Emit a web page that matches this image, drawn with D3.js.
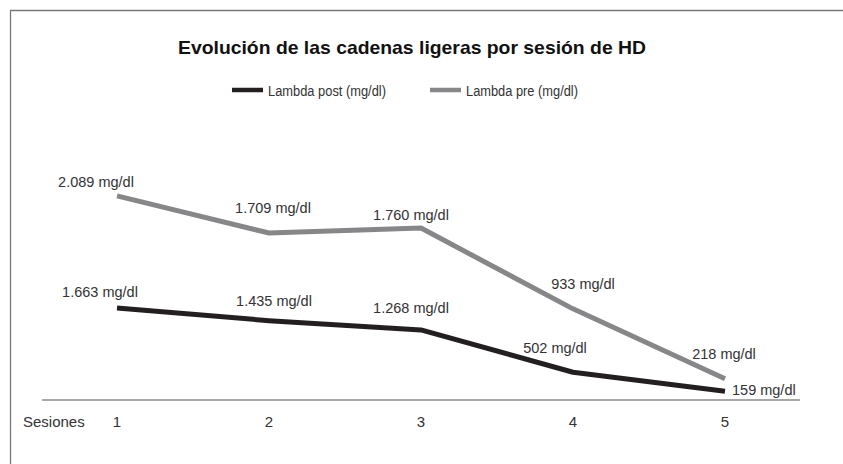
<!DOCTYPE html>
<html>
<head>
<meta charset="utf-8">
<script src="https://cdn.jsdelivr.net/npm/d3@7"></script>
<style>
  body { margin: 0; background: #fff; }
  svg { display: block; }
</style>
</head>
<body>
<div id="chart"></div>
<script>
// datos del gráfico
const sesiones = [1, 2, 3, 4, 5];
const lambdaPost = [1663, 1435, 1268, 502, 159];
const lambdaPre = [2089, 1709, 1760, 933, 218];
const etiquetasPost = ["1.663 mg/dl", "1.435 mg/dl", "1.268 mg/dl", "502 mg/dl", "159 mg/dl"];
const etiquetasPre = ["2.089 mg/dl", "1.709 mg/dl", "1.760 mg/dl", "933 mg/dl", "218 mg/dl"];
const titulo = "Evolución de las cadenas ligeras por sesión de HD";
const nombresSeries = ["Lambda post (mg/dl)", "Lambda pre (mg/dl)"];

// desplazamientos manuales de las etiquetas (dx, dy respecto al punto)
const ajustePre = [[-21, -9], [4, -20], [-10, -8], [10, -20], [-1, -20]];
const ajustePost = [[-17, -11], [5, -15], [-10, -17], [-18, -19], [7, 4]];

const colors = {
    post: "#231f20",
    pre: "#87878a",
    axis: "#8a8a8a",
    text: "#333333"
};

const width = 843, height = 464;
const svg = d3.select("#chart").append("svg")
    .attr("width", width)
    .attr("height", height);

const fontTxt = "'Liberation Sans Narrow', 'Liberation Sans', Arial, sans-serif";

// marco (solo arriba e izquierda visibles)
svg.append("path")
    .attr("d", `M10.5,${height} L10.5,10.5 L${width},10.5`)
    .attr("fill", "none")
    .attr("stroke", "#777")
    .attr("stroke-width", 1.3);

// escalas
const x = d3.scaleLinear().domain([1, 5]).range([117, 725]);
const yPost = d3.scaleLinear().domain([0, 6510]).range([400, 40]);
const yPre = d3.scaleLinear().domain([0, 3685]).range([400, 40]);

// título
svg.append("text")
    .attr("x", 412)
    .attr("y", 54)
    .attr("text-anchor", "middle")
    .attr("font-family", "'Liberation Sans', Arial, sans-serif")
    .attr("font-weight", "bold")
    .attr("font-size", 19)
    .attr("fill", "#111")
    .attr("textLength", 468)
    .attr("lengthAdjust", "spacingAndGlyphs")
    .text(titulo);

// leyenda
const legendData = [
    { name: nombresSeries[0], color: colors.post, x: 232, w: 118 },
    { name: nombresSeries[1], color: colors.pre, x: 430, w: 112 }
];
const legend = svg.selectAll(".legend")
    .data(legendData)
    .enter().append("g")
    .attr("class", "legend")
    .attr("transform", d => `translate(${d.x}, 90)`);

legend.append("line")
    .attr("x1", 0).attr("x2", 31)
    .attr("y1", 0).attr("y2", 0)
    .attr("stroke", d => d.color)
    .attr("stroke-width", 4.5);

legend.append("text")
    .attr("x", 36)
    .attr("y", 5.5)
    .attr("font-family", fontTxt)
    .attr("font-size", 15.5)
    .attr("fill", colors.text)
    .attr("textLength", d => d.w)
    .attr("lengthAdjust", "spacingAndGlyphs")
    .text(d => d.name);

// eje x
const axisG = svg.append("g")
    .attr("transform", "translate(0, 400)");

axisG.append("line")
    .attr("x1", 42).attr("x2", 800)
    .attr("y1", 0).attr("y2", 0)
    .attr("stroke", colors.axis)
    .attr("stroke-width", 1.5);

axisG.selectAll(".tick-label")
    .data(sesiones)
    .enter().append("text")
    .attr("class", "tick-label")
    .attr("x", d => x(d))
    .attr("y", 27)
    .attr("text-anchor", "middle")
    .attr("font-family", fontTxt)
    .attr("font-size", 15)
    .attr("fill", colors.text)
    .text(d => d);

axisG.append("text")
    .attr("x", 23)
    .attr("y", 27)
    .attr("font-family", fontTxt)
    .attr("font-size", 15)
    .attr("fill", colors.text)
    .text("Sesiones");

// líneas
const series = [
    { values: lambdaPre, labels: etiquetasPre, nudge: ajustePre, scale: yPre, color: colors.pre },
    { values: lambdaPost, labels: etiquetasPost, nudge: ajustePost, scale: yPost, color: colors.post }
];

series.forEach(s => {
    const pts = sesiones.map((ses, i) => ({ ses: ses, v: s.values[i], label: s.labels[i], nudge: s.nudge[i] }));

    const line = d3.line()
        .x(d => x(d.ses))
        .y(d => s.scale(d.v));

    svg.append("path")
        .datum(pts)
        .attr("fill", "none")
        .attr("stroke", s.color)
        .attr("stroke-width", 5)
        .attr("stroke-linejoin", "round")
        .attr("d", line);

    svg.selectAll(null)
        .data(pts)
        .enter().append("text")
        .attr("x", d => x(d.ses) + d.nudge[0])
        .attr("y", d => s.scale(d.v) + d.nudge[1])
        .attr("text-anchor", (d, i) => (s.color === colors.post && i === pts.length - 1) ? "start" : "middle")
        .attr("font-family", fontTxt)
        .attr("font-size", 14.5)
        .attr("fill", colors.text)
        .text(d => d.label);
});
</script>
</body>
</html>
